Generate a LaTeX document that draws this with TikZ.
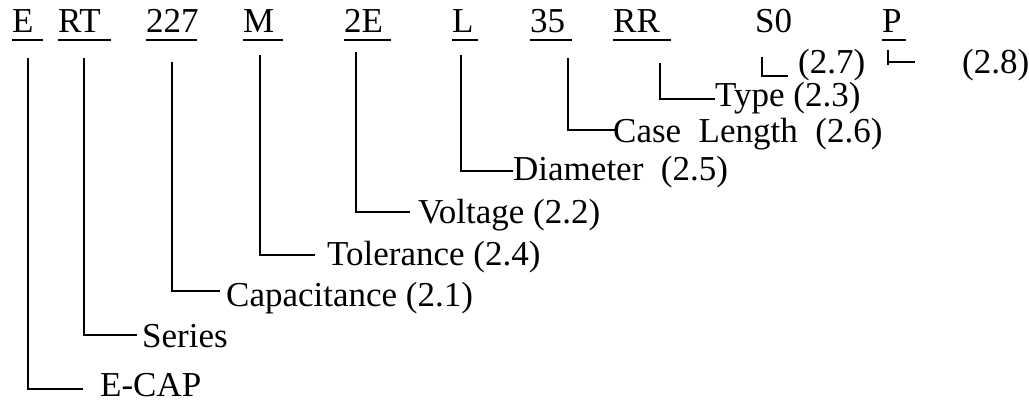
\documentclass[tikz,border=0pt]{standalone}
\usepackage{fontspec}
\setmainfont{Liberation Serif}
\begin{document}
\begin{tikzpicture}[x=1pt, y=-1pt,
  font=\fontsize{35}{42}\selectfont,
  code/.style={anchor=base west, inner sep=0pt},
  desc/.style={anchor=base west, inner sep=0pt},
  uline/.style={line width=1.6pt},
  conn/.style={line width=1.8pt}
]
  \useasboundingbox (0,0) rectangle (1029,403);

  % part number
  \node[code] (e)   at (12,33)  {E};
  \node[code] (rt)  at (58,33)  {RT};
  \node[code] (cap) at (146,33) {227};
  \node[code] (m)   at (243,33) {M};
  \node[code] (v)   at (344,33) {2E};
  \node[code] (l)   at (452,33) {L};
  \node[code] (len) at (530,33) {35};
  \node[code] (rr)  at (613,33) {RR};
  \node[code] (s)   at (755,33) {S0};
  \node[code] (p)   at (882,33) {P};

  % underlines (a bit longer than the letters)
  \foreach \n/\w in {e/9,rt/10,cap/-2,m/8,v/8,l/4,len/7,rr/11,p/4}
    \draw[uline] ([yshift=-7pt]\n.base west) -- ([xshift=\w pt,yshift=-7pt]\n.base east);

  % descriptions
  \node[desc] (ecap)   at (100,397) {E-CAP};
  \node[desc] (series) at (142,348) {Series};
  \node[desc] (capl)   at (226,307) {Capacitance (2.1)};
  \node[desc] (tol)    at (327,266) {Tolerance (2.4)};
  \node[desc] (volt)   at (418,224) {Voltage (2.2)};
  \node[desc] (diam)   at (513,181) {Diameter~~(2.5)};
  \node[desc] (clen)   at (613,143) {Case~~Length~~(2.6)};
  \node[desc] (type)   at (715,107) {Type (2.3)};
  \node[desc] (s27)    at (798,74)  {(2.7)};
  \node[desc] (p28)    at (962,74)  {(2.8)};

  % connectors
  \draw[conn] ([xshift=16pt,yshift=-25pt]e.base west)   |- ([xshift=-17pt,yshift=8pt]ecap.base west);
  \draw[conn] ([xshift=26pt,yshift=-25pt]rt.base west)  |- ([xshift=-5pt,yshift=13pt]series.base west);
  \draw[conn] ([xshift=26pt,yshift=-29pt]cap.base west) |- ([xshift=-6pt,yshift=16pt]capl.base west);
  \draw[conn] ([xshift=17pt,yshift=-22pt]m.base west)   |- ([xshift=-12pt,yshift=11pt]tol.base west);
  \draw[conn] ([xshift=12pt,yshift=-19pt]v.base west)   |- ([xshift=-8pt,yshift=12pt]volt.base west);
  \draw[conn] ([xshift=9pt,yshift=-22pt]l.base west)    |- ([yshift=10pt]diam.base west);
  \draw[conn] ([xshift=38pt,yshift=-25pt]len.base west) |- ([xshift=2pt,yshift=13pt]clen.base west);
  \draw[conn] ([xshift=47pt,yshift=-30pt]rr.base west)  |- ([yshift=8pt]type.base west);
  \draw[conn] ([xshift=7pt,yshift=-24pt]s.base west)    |- ([xshift=-10pt,yshift=-2pt]s27.base west);
  \draw[conn] ([xshift=6pt,yshift=-17pt]p.base west) -- ++(0,15)
              ([xshift=6pt,yshift=-29pt]p.base west) -- ([xshift=-47pt,yshift=12pt]p28.base west);
\end{tikzpicture}
\end{document}
